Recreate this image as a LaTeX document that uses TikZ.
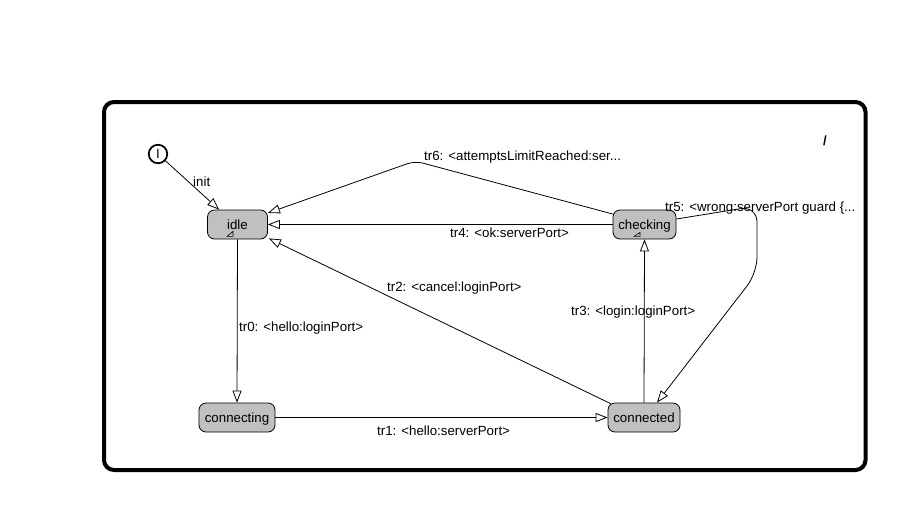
\documentclass[tikz,border=0pt]{standalone}
\usepackage{fontspec}
\setmainfont{Liberation Sans}
\usetikzlibrary{arrows.meta,calc}
\definecolor{stategray}{RGB}{192,192,192}
\begin{document}
\begin{tikzpicture}[x=1pt,y=-1pt,
  txt/.style={font=\fontsize{13.3}{15}\selectfont},
  state/.style={txt, draw, line width=0.8pt, fill=stategray, rounded corners=7pt,
    minimum height=29pt, inner sep=0pt, text height=10.5pt, text depth=0.5pt},
  lbl/.style={txt, inner sep=0pt, text height=9.5pt, text depth=2pt, anchor=west},
  tr/.style={draw, line width=0.8pt, -{Triangle[open,length=12pt,width=9pt,line width=0.8pt]}},
  submark/.style={draw, line width=0.6pt},
]
\useasboundingbox (0,0) rectangle (912,520);
\fill[white] (0,0) rectangle (912,520);

% frame
\node[draw, line width=4pt, rounded corners=10pt, minimum width=761.5pt,
  minimum height=368pt, inner sep=0pt] (frame) at (484.75,286) {};
\node[txt, inner sep=0pt, font=\fontsize{13.3}{15}\selectfont\bfseries] (slash) at (825,140.5) {/};

% states
\node[draw, circle, line width=1.7pt, minimum size=18.5pt, inner sep=0pt, txt] (I) at (158,154) {I};
\node[state, minimum width=60pt] (idle) at (237.5,224.5) {idle};
\node[state, minimum width=63pt] (checking) at (644.5,224.5) {checking};
\node[state, minimum width=76pt] (connecting) at (237,417.5) {connecting};
\node[state, minimum width=72pt] (connected) at (644,417.5) {connected};

% submachine marks
\draw[submark] ($(idle.south)+(-10.5,-3)$) -- ($(idle.south)+(-4.5,-3)$) -- ($(idle.south)+(-4.5,-8)$) -- cycle;
\draw[submark] ($(checking.south)+(-10.5,-3)$) -- ($(checking.south)+(-4.5,-3)$) -- ($(checking.south)+(-4.5,-7)$) -- cycle;

% helper coordinates
\coordinate (b6) at (415,161);
\coordinate (c5a) at (757,206);
\coordinate (c5b) at (757,273);

% transitions
\draw[tr] (I) -- ([xshift=12pt]idle.north west);
\draw[tr] (idle.south) -- (connecting.north);
\draw[tr] (connecting.east) -- (connected.west);
\draw[tr] ([shift={(3pt,-1pt)}]connected.north west) -- ([shift={(1pt,1pt)}]idle.south east);
\draw[tr] (connected.north) -- (checking.south);
\draw[tr] (checking.west) -- (idle.east);
\draw[tr, rounded corners=8pt] ([yshift=10.5pt]checking.west) -- (b6) -- ([yshift=11.5pt]idle.east);
\draw[tr, rounded corners=16pt] ([yshift=5.5pt]checking.east) -- (c5a) -- (c5b) -- ([xshift=13pt]connected.north);

% labels
\node[lbl] (linit) at (193,183) {init};
\node[lbl] (l0) at (239,328) {tr0: <hello:loginPort>};
\node[lbl] (l1) at (377,432) {tr1: <hello:serverPort>};
\node[lbl] (l2) at (387,288) {tr2: <cancel:loginPort>};
\node[lbl] (l3) at (571,312) {tr3: <login:loginPort>};
\node[lbl] (l4) at (450,234) {tr4: <ok:serverPort>};
\node[lbl] (l5) at (665,208) {tr5: <wrong:serverPort guard \{...};
\node[lbl] (l6) at (424,157) {tr6: <attemptsLimitReached:ser...};
\end{tikzpicture}
\end{document}
